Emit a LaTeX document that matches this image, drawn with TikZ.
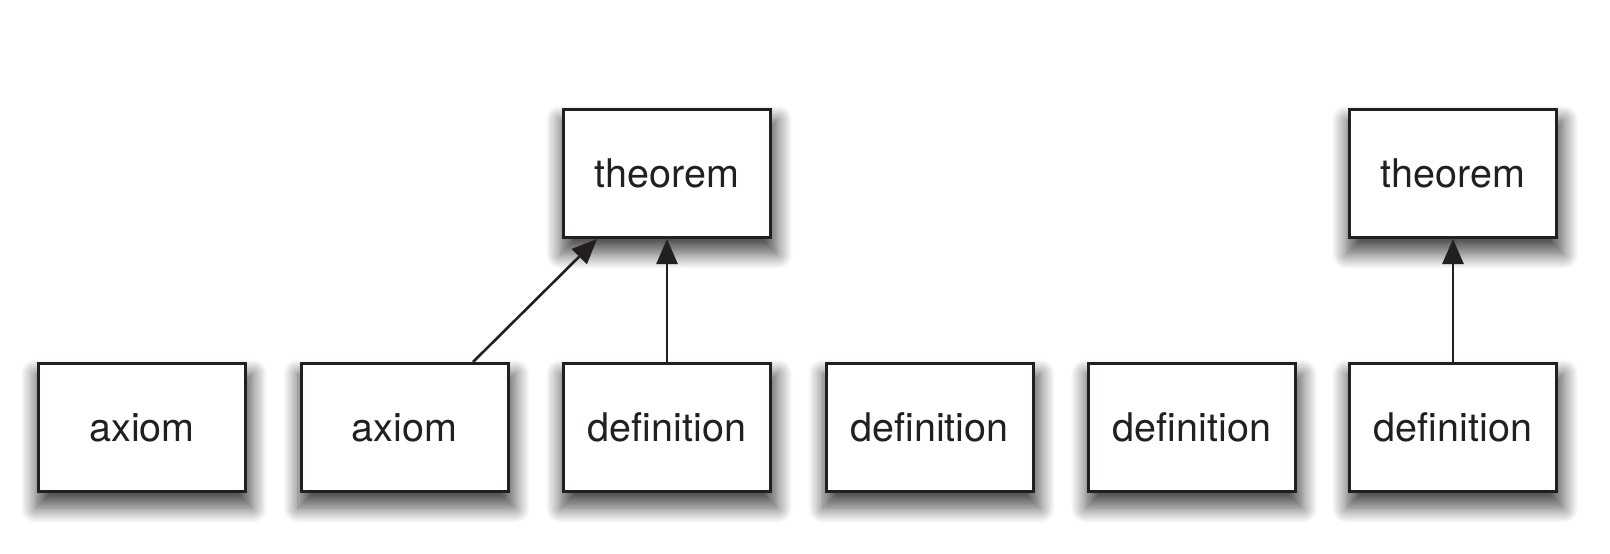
\documentclass[tikz,border=0pt]{standalone}
\usepackage{fontspec}
\setmainfont{TeX Gyre Heros}
\usetikzlibrary{arrows.meta,shadows.blur}
\definecolor{ink}{HTML}{231F20}
\begin{document}
\begin{tikzpicture}[x=1pt,y=-1pt,
  box/.style={draw=ink,line width=3pt,fill=white,minimum width=207pt,minimum height=128pt,
    text=ink,font=\fontsize{39.5}{47}\selectfont,
    blur shadow={shadow xshift=2pt,shadow yshift=-13pt,shadow scale=1.05,shadow blur radius=14pt,shadow opacity=68,shadow blur steps=14}},
  link/.style={draw=ink,line width=2.6pt,-{Triangle[length=25pt,width=21pt]}}]
\useasboundingbox (0,0) rectangle (1610,554);
\node[box] (a1) at (142,427.5) {axiom};
\node[box] (a2) at (404.5,427.5) {axiom};
\node[box] (d1) at (667,427.5) {definition};
\node[box] (d2) at (929.5,427.5) {definition};
\node[box] (d3) at (1192,427.5) {definition};
\node[box] (d4) at (1453,427.5) {definition};
\node[box] (t1) at (667,173.5) {theorem};
\node[box] (t2) at (1453,173.5) {theorem};
\draw[link] ([xshift=68.5pt]a2.north) -- ([xshift=-70pt]t1.south);
\draw[link] (d1.north) -- (t1.south);
\draw[link] (d4.north) -- (t2.south);
\end{tikzpicture}
\end{document}
